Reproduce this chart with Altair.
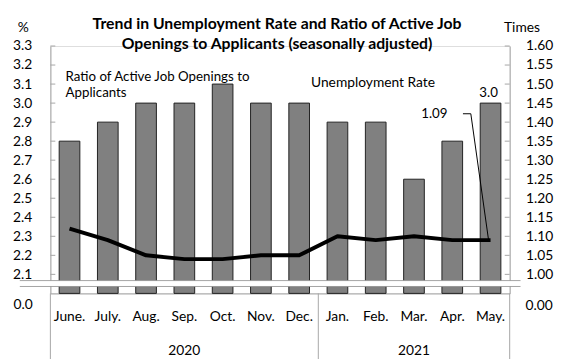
import altair as alt
import pandas as pd

months = ["June.", "July.", "Aug.", "Sep.", "Oct.", "Nov.", "Dec.",
          "Jan.", "Feb.", "Mar.", "Apr.", "May."]
unemployment = [2.8, 2.9, 3.0, 3.0, 3.1, 3.0, 3.0, 2.9, 2.9, 2.6, 2.8, 3.0]
ratio = [1.12, 1.09, 1.05, 1.04, 1.04, 1.05, 1.05, 1.10, 1.09, 1.10, 1.09, 1.09]
left_ticks = [2.1, 2.2, 2.3, 2.4, 2.5, 2.6, 2.7, 2.8, 2.9, 3.0, 3.1, 3.2, 3.3]
right_ticks = [1.00, 1.05, 1.10, 1.15, 1.20, 1.25, 1.30, 1.35, 1.40, 1.45, 1.50, 1.55, 1.60]
years = ["2020", "2021"]
year_mid_month = ["Sep.", "Mar."]
title_lines = ["Trend in Unemployment Rate and Ratio of Active Job",
               "Openings to Applicants (seasonally adjusted)"]

W, H = 466, 251
FONT = "Lato"
GRAY = "#A6A6A6"
LDOM = [2.0, 3.3]
RDOM = [0.95, 1.60]

df = pd.DataFrame({"month": months, "u": unemployment, "r": ratio})
xs = alt.X("month:N", sort=months,
           scale=alt.Scale(domain=months, paddingInner=0.46, paddingOuter=0.23),
           axis=alt.Axis(title=None, labelAngle=0, labelFontSize=14, labelColor="black",
                         labelFont=FONT, ticks=False, domainColor=GRAY, labelPadding=16))

ly = alt.Scale(domain=LDOM, nice=False, zero=False)
ry = alt.Scale(domain=RDOM, nice=False, zero=False)

bars = alt.Chart(df).mark_bar(color="#808080", stroke="#222222", strokeWidth=1).encode(
    x=xs,
    y=alt.Y("u:Q", scale=ly,
            axis=alt.Axis(values=left_ticks, format=".1f", title="%", titleAngle=0,
                          titleX=-28, titleY=-19, titleAlign="center", titleBaseline="middle",
                          titleFontWeight="normal", titleFontSize=14, titleFont=FONT,
                          labelFontSize=14, labelFont=FONT, labelColor="black",
                          ticks=False, grid=False, domainColor=GRAY, labelPadding=19)),
    y2=alt.datum(2.0),
)

line = alt.Chart(df).mark_line(color="black", strokeWidth=4, strokeJoin="round").encode(
    x=alt.X("month:N", sort=months),
    y=alt.Y("r:Q", scale=ry,
            axis=alt.Axis(orient="right", values=right_ticks, format=".2f", title="Times",
                          titleAngle=0, titleX=12, titleY=-19, titleAlign="center",
                          titleBaseline="middle", titleFontWeight="normal", titleFontSize=14,
                          titleFont=FONT, labelFontSize=14, labelFont=FONT, labelColor="black",
                          labelAlign="left", ticks=False, grid=False, domainColor=GRAY,
                          labelPadding=16)),
)

# inner tick marks
lt = alt.Chart(pd.DataFrame({"v": left_ticks})).mark_rule(color=GRAY).encode(
    y=alt.Y("v:Q", scale=ly, axis=None), x=alt.value(0), x2=alt.value(5))
rt = alt.Chart(pd.DataFrame({"v": right_ticks})).mark_rule(color=GRAY).encode(
    y=alt.Y("v:Q", scale=ry, axis=None), x=alt.value(W - 5), x2=alt.value(W))

# axis break band
brk_white = alt.Chart(pd.DataFrame({"a": [0]})).mark_rule(color="white", strokeWidth=6).encode(
    x=alt.value(-31), x2=alt.value(W + 11), y=alt.value(241))
brk_edges = alt.Chart(pd.DataFrame({"p": [238, 244]})).mark_rule(color="#8c8c8c", strokeWidth=0.8).encode(
    x=alt.value(-31), x2=alt.value(W + 11), y=alt.Y("p:Q", scale=alt.Scale(domain=[0, H], range=[0, H]), axis=None))

# zero labels under the break
zero_l = alt.Chart(pd.DataFrame({"t": ["0.0"]})).mark_text(
    align="right", baseline="middle", fontSize=14, font=FONT).encode(
    text="t:N", x=alt.value(-18), y=alt.value(263))
zero_r = alt.Chart(pd.DataFrame({"t": ["0.00"]})).mark_text(
    align="left", baseline="middle", fontSize=14, font=FONT).encode(
    text="t:N", x=alt.value(W + 16), y=alt.value(264))

# category separators
sep = alt.Chart(pd.DataFrame({"a": [0]})).mark_rule(color=GRAY)
sep_l = sep.encode(x=alt.value(0), y=alt.value(H), y2=alt.value(H + 70))
sep_r = sep.encode(x=alt.value(W), y=alt.value(H), y2=alt.value(H + 70))
sep_m = alt.Chart(pd.DataFrame({"m": ["Jan."]})).mark_rule(color=GRAY, xOffset=-8.93).encode(
    x=alt.X("m:N", sort=months, bandPosition=0), y=alt.value(H), y2=alt.value(H + 70))

year_txt = alt.Chart(pd.DataFrame({"m": year_mid_month, "t": years})).mark_text(
    baseline="middle", fontSize=14, font=FONT).encode(
    x=alt.X("m:N", sort=months), y=alt.value(H + 58.5), text="t:N")

# annotations
ann_ratio = alt.Chart(pd.DataFrame({"m": ["June.", "June."], "v": [3.136, 3.053],
                                    "t": ["Ratio of Active Job Openings to", "Applicants"]})).mark_text(
    align="left", baseline="middle", fontSize=13.5, font=FONT, dx=-4).encode(
    x=alt.X("m:N", sort=months), y=alt.Y("v:Q", scale=ly, axis=None), text="t:N")
ann_unemp = alt.Chart(pd.DataFrame({"m": ["Dec."], "v": [3.105], "t": ["Unemployment Rate"]})).mark_text(
    align="left", baseline="middle", fontSize=14, font=FONT, dx=12).encode(
    x=alt.X("m:N", sort=months), y=alt.Y("v:Q", scale=ly, axis=None), text="t:N")
lab_u = alt.Chart(pd.DataFrame({"m": ["May."], "v": [unemployment[-1]]})).mark_text(
    baseline="middle", fontSize=13.5, font=FONT, dy=-10, dx=-2).encode(
    x=alt.X("m:N", sort=months), y=alt.Y("v:Q", scale=ly, axis=None),
    text=alt.Text("v:Q", format=".1f"))
lab_r = alt.Chart(pd.DataFrame({"m": ["May."], "v": [1.422], "t": ["%.2f" % ratio[-1]]})).mark_text(
    baseline="middle", fontSize=13.5, font=FONT, dx=-57).encode(
    x=alt.X("m:N", sort=months), y=alt.Y("v:Q", scale=ry, axis=None), text="t:N")
lead1 = alt.Chart(pd.DataFrame({"m": ["May."], "v": [1.422]})).mark_rule(
    color="black", strokeWidth=1, xOffset=-28, x2Offset=-20).encode(
    x=alt.X("m:N", sort=months), x2="m:N",
    y=alt.Y("v:Q", scale=ry, axis=None))
lead2 = alt.Chart(pd.DataFrame({"m": ["May."], "v": [1.422], "v2": [ratio[-1]]})).mark_rule(
    color="black", strokeWidth=1, xOffset=-20, x2Offset=-2).encode(
    x=alt.X("m:N", sort=months), x2="m:N",
    y=alt.Y("v:Q", scale=ry, axis=None), y2="v2:Q")

# title
title_df = pd.DataFrame({"t": title_lines, "yy": [-22.3, -2.3]})
title = alt.Chart(title_df).mark_text(fontSize=16, fontWeight="bold", font=FONT, baseline="middle").encode(
    x=alt.value(W / 2 - 3), y=alt.Y("yy:Q", scale=alt.Scale(domain=[0, H], range=[0, H]), axis=None),
    text="t:N")

chart = alt.layer(
    bars, line, lt, rt, brk_white, brk_edges, zero_l, zero_r,
    sep_l, sep_r, sep_m, year_txt, ann_ratio, ann_unemp, lab_u, lab_r, lead1, lead2, title
).resolve_scale(y="independent").properties(
    width=W, height=H,
    padding={"left": 43, "top": 36, "right": 47, "bottom": 64},
    autosize=alt.AutoSizeParams(type="none"),
).configure_view(stroke=None).configure(font=FONT)

chart.save("out.html", embed_options={"renderer": "svg", "actions": False})
